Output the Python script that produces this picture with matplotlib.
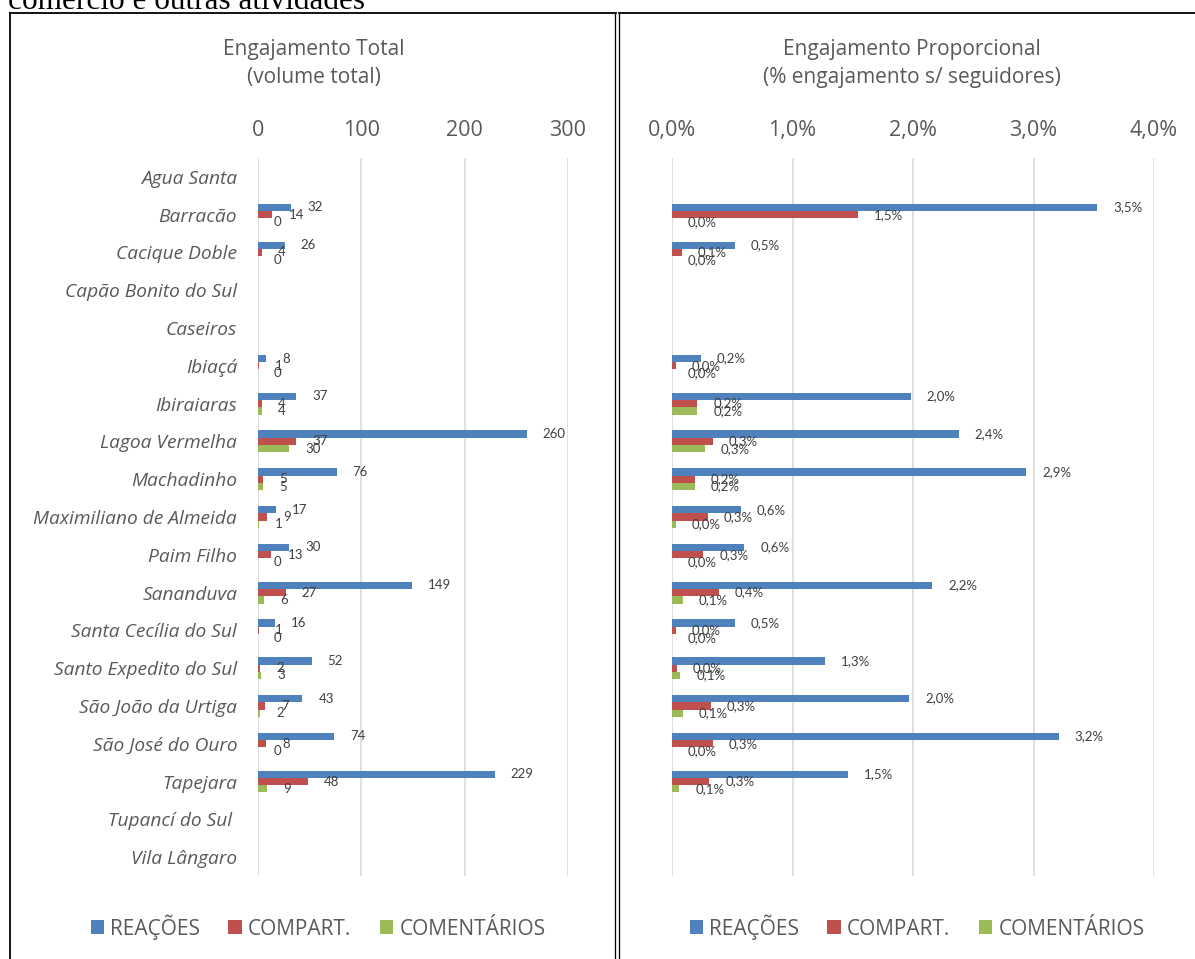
import numpy as np
import matplotlib
matplotlib.use("Agg")
import matplotlib.pyplot as plt
from matplotlib.lines import Line2D
from matplotlib.patches import Patch

plt.rcParams['font.family'] = ['Open Sans', 'DejaVu Sans']

# ---- data -------------------------------------------------------------
municipios = [
    "Agua Santa", "Barracão", "Cacique Doble", "Capão Bonito do Sul", "Caseiros",
    "Ibiaçá", "Ibiraiaras", "Lagoa Vermelha", "Machadinho", "Maximiliano de Almeida",
    "Paim Filho", "Sananduva", "Santa Cecília do Sul", "Santo Expedito do Sul",
    "São João da Urtiga", "São José do Ouro", "Tapejara", "Tupancí do Sul ", "Vila Lângaro",
]
nan = np.nan
# total volume
reacoes_tot = [nan, 32, 26, nan, nan, 8, 37, 260, 76, 17, 30, 149, 16, 52, 43, 74, 229, nan, nan]
compart_tot = [nan, 14, 4, nan, nan, 1, 4, 37, 5, 9, 13, 27, 1, 2, 7, 8, 48, nan, nan]
coment_tot = [nan, 0, 0, nan, nan, 0, 4, 30, 5, 1, 0, 6, 0, 3, 2, 0, 9, nan, nan]
# engagement relative to followers (%)
reacoes_pct = [nan, 3.53, 0.52, nan, nan, 0.24, 1.98, 2.38, 2.94, 0.57, 0.60, 2.16, 0.52, 1.27, 1.97, 3.21, 1.46, nan, nan]
compart_pct = [nan, 1.54, 0.08, nan, nan, 0.03, 0.21, 0.34, 0.19, 0.30, 0.26, 0.39, 0.03, 0.04, 0.32, 0.34, 0.31, nan, nan]
coment_pct = [nan, 0.0, 0.0, nan, nan, 0.0, 0.21, 0.27, 0.19, 0.03, 0.0, 0.09, 0.0, 0.07, 0.09, 0.0, 0.06, nan, nan]

series_names = ["REAÇÕES", "COMPART.", "COMENTÁRIOS"]
colors = ["#4F81BD", "#C0504D", "#9BBB59"]

# ---- figure -----------------------------------------------------------
W, H = 1195, 959
fig = plt.figure(figsize=(W / 100, H / 100), dpi=100)


def fx(px):
    return px / W


def fy(py):
    return 1 - py / H


GRAY = "#595959"
LABEL = "#404040"
top_px, bot_px = 158, 876

axL = fig.add_axes([fx(258), fy(bot_px), (568 - 258) / W, (bot_px - top_px) / H])
axR = fig.add_axes([fx(672), fy(bot_px), (1154 - 672) / W, (bot_px - top_px) / H])

n = len(municipios)
y = np.arange(n)
h = 0.193


def draw(ax, data, fmt, xmax, ticks, ticklabels, show_cats):
    for k, (vals, col) in enumerate(zip(data, colors)):
        vals = np.asarray(vals, dtype=float)
        pos = y + (k - 1) * h
        ax.barh(pos, np.nan_to_num(vals), height=h, color=col,
                edgecolor="none", zorder=3)
        for p, v in zip(pos, vals):
            if np.isnan(v):
                continue
            ax.annotate(fmt(v), xy=(v, p), xytext=(11.5, 0),
                        textcoords="offset points", ha="left", va="center",
                        fontsize=9.5, family=["Lato", "DejaVu Sans"],
                        color=LABEL, clip_on=False, zorder=4)
    ax.set_xlim(0, xmax)
    ax.set_ylim(n - 0.5, -0.5)
    ax.set_xticks(ticks)
    ax.set_xticklabels(ticklabels)
    ax.xaxis.tick_top()
    ax.tick_params(axis="x", length=0, pad=12, labelsize=15.5, labelcolor=GRAY)
    ax.grid(axis="x", color="#D9D9D9", lw=1.2, zorder=0)
    ax.set_axisbelow(True)
    for s in ax.spines.values():
        s.set_visible(False)
    ax.set_yticks(y)
    if show_cats:
        ax.set_yticklabels(municipios, fontstyle="italic")
        ax.tick_params(axis="y", length=0, pad=15, labelsize=13.8, labelcolor=GRAY)
    else:
        ax.set_yticklabels([])
        ax.tick_params(axis="y", length=0)


draw(axL, [reacoes_tot, compart_tot, coment_tot], lambda v: f"{v:.0f}",
     300, [0, 100, 200, 300], ["0", "100", "200", "300"], True)
draw(axR, [reacoes_pct, compart_pct, coment_pct],
     lambda v: f"{v:.1f}%".replace(".", ","),
     4.0, [0, 1, 2, 3, 4], ["0,0%", "1,0%", "2,0%", "3,0%", "4,0%"], False)

# titles
for cx, l1, l2 in [(314, "Engajamento Total", "(volume total)"),
                   (912, "Engajamento Proporcional", "(% engajamento s/ seguidores)")]:
    fig.text(fx(cx), fy(49), l1, ha="center", va="center", fontsize=15, color=GRAY)
    fig.text(fx(cx), fy(78), l2, ha="center", va="center", fontsize=15, color=GRAY)

# legends
handles = [Patch(facecolor=c, edgecolor="none") for c in colors]
for cx in (318, 917):
    fig.legend(handles, series_names, loc="center", bbox_to_anchor=(fx(cx), fy(927)),
               ncol=3, frameon=False, fontsize=15, labelcolor=GRAY,
               handlelength=0.65, handleheight=0.65, handletextpad=0.3,
               columnspacing=1.35)

# frames around the two charts
for (x0, x1), (y0, y1), lw in [
    ((9.5, 9.5), (13, 959), 1.3),
    ((9.5, 615.5), (13, 13), 1.3),
    ((615.2, 615.2), (13, 959), 0.95),
    ((618.6, 618.6), (13, 959), 0.95),
    ((618.6, 1195), (13, 13), 1.3),
]:
    fig.add_artist(Line2D([fx(x0), fx(x1)], [fy(y0), fy(y1)],
                          transform=fig.transFigure, color="black", lw=lw))

# running text above the charts
fig.text(fx(8), fy(9), "comércio e outras atividades", ha="left", va="baseline",
         fontsize=22.5, family="Liberation Serif", color="black")

fig.savefig("out.png", dpi=100)
